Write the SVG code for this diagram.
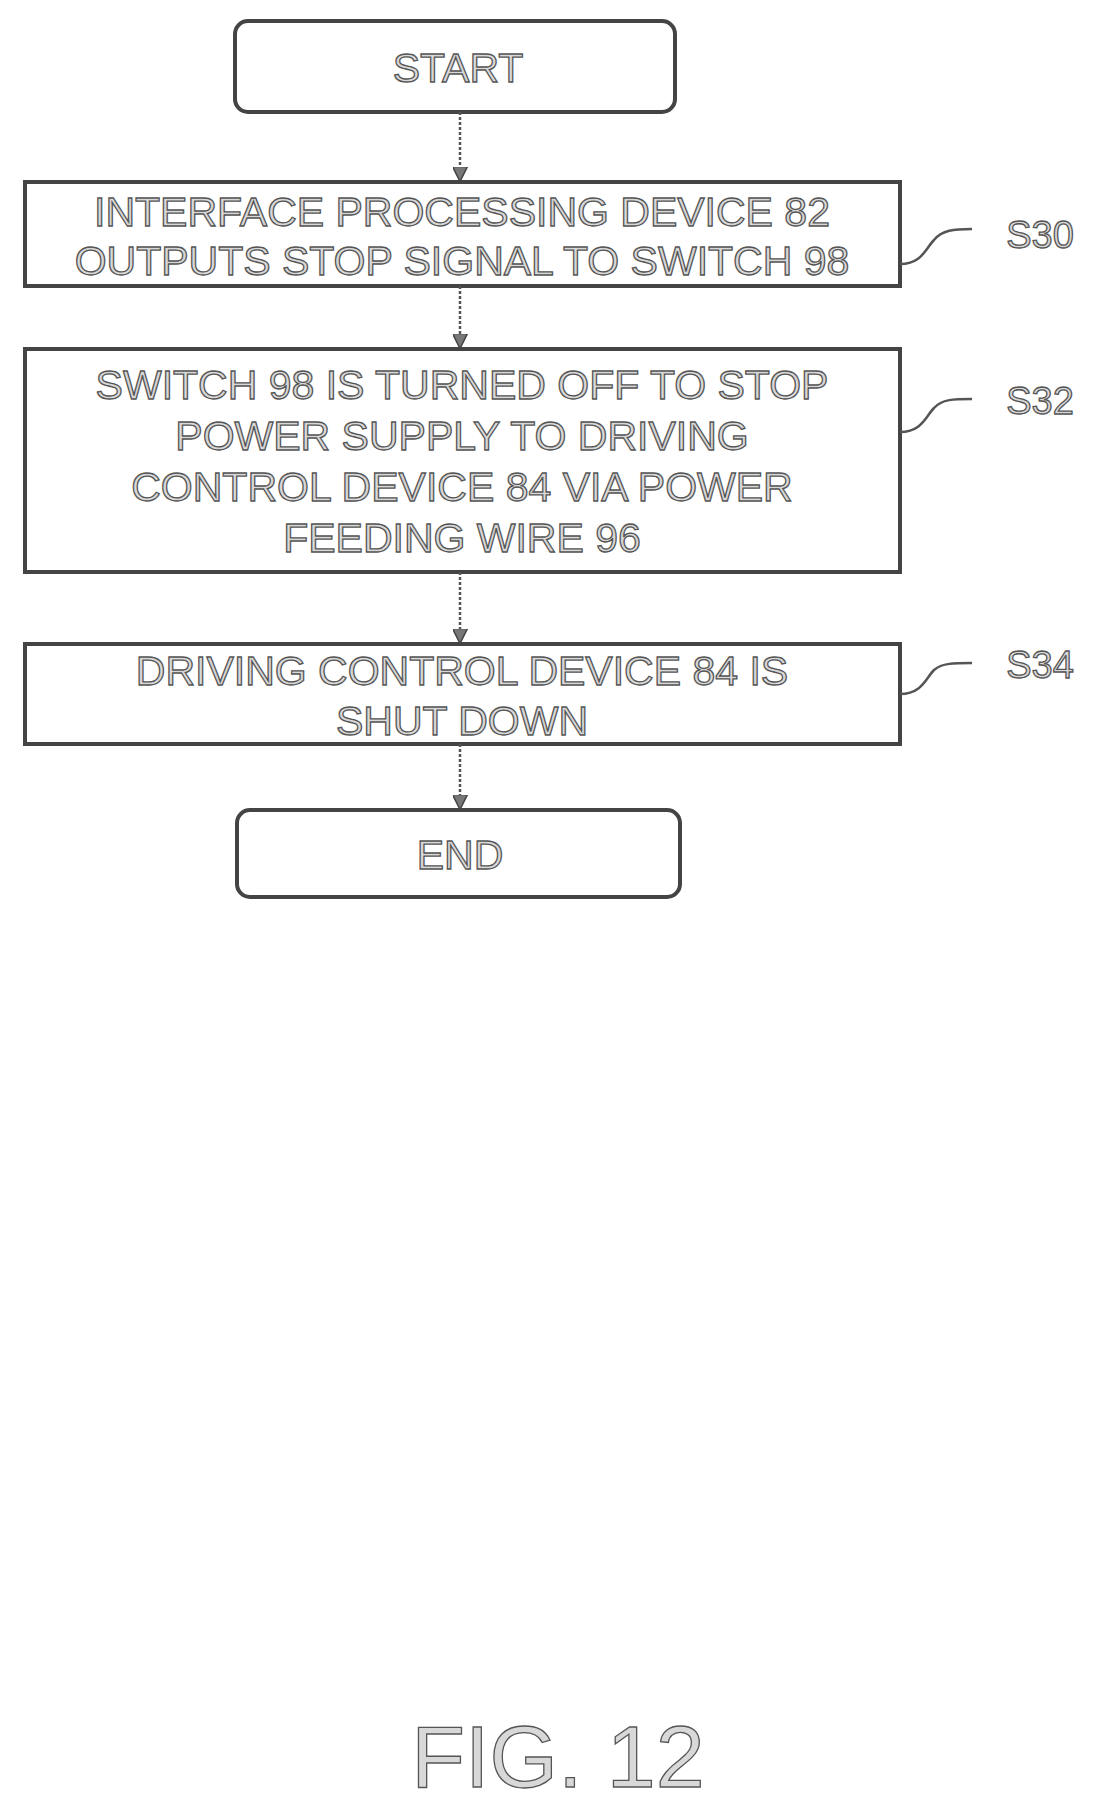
<svg xmlns="http://www.w3.org/2000/svg" width="1094" height="1813" viewBox="0 0 1094 1813">
<defs>
<style>
.b{fill:#fff;stroke:#444;stroke-width:4}
.t{font-family:"Liberation Sans",Arial,sans-serif;font-size:41px;fill:#d8d8d8;stroke:#555;stroke-width:1.3;text-anchor:middle;dominant-baseline:central}
.c{stroke:#555;stroke-width:2.5;fill:none;stroke-dasharray:3 2}
.l{stroke:#555;stroke-width:2.5;fill:none}
</style>
<marker id="a" viewBox="0 0 10 10" refX="9" refY="5" markerWidth="6" markerHeight="6" orient="auto"><path d="M0,0L10,5L0,10z" fill="#777" stroke="#444" stroke-width="1"/></marker>
</defs>
<rect width="1094" height="1813" fill="#fff"/>
<g id="start"><rect class="b" x="235" y="21" width="440" height="91" rx="13"/><text class="t" x="458" y="68">START</text></g>
<g id="s30"><rect class="b" x="25" y="182" width="875" height="104"/><text class="t" x="462" y="212">INTERFACE PROCESSING DEVICE 82</text><text class="t" x="462" y="261">OUTPUTS STOP SIGNAL TO SWITCH 98</text></g>
<g id="s32"><rect class="b" x="25" y="349" width="875" height="223"/><text class="t" x="462" y="385">SWITCH 98 IS TURNED OFF TO STOP</text><text class="t" x="462" y="436">POWER SUPPLY TO DRIVING</text><text class="t" x="462" y="487">CONTROL DEVICE 84 VIA POWER</text><text class="t" x="462" y="538">FEEDING WIRE 96</text></g>
<g id="s34"><rect class="b" x="25" y="644" width="875" height="100"/><text class="t" x="462" y="671">DRIVING CONTROL DEVICE 84 IS</text><text class="t" x="462" y="721">SHUT DOWN</text></g>
<g id="end"><rect class="b" x="237" y="810" width="443" height="87" rx="13"/><text class="t" x="460" y="855">END</text></g>
<g id="labels">
<text class="t" x="1040" y="235" style="font-size:38px">S30</text>
<text class="t" x="1040" y="401" style="font-size:38px">S32</text>
<text class="t" x="1040" y="665" style="font-size:38px">S34</text>
<path class="l" d="M900,264 C922,264 926,248 934,240 C942,230 954,229 972,229"/>
<path class="l" d="M900,432 C922,432 926,416 934,408 C942,399 954,399 972,399"/>
<path class="l" d="M900,694 C922,694 926,678 934,670 C942,663 954,663 972,663"/>
<text class="t" x="558" y="1756" style="font-size:88px">FIG. 12</text>
</g>
<g id="connectors">
<line class="c" x1="460" y1="112" x2="460" y2="180" marker-end="url(#a)"/>
<line class="c" x1="460" y1="286" x2="460" y2="347" marker-end="url(#a)"/>
<line class="c" x1="460" y1="572" x2="460" y2="642" marker-end="url(#a)"/>
<line class="c" x1="460" y1="744" x2="460" y2="808" marker-end="url(#a)"/>
</g>
</svg>
